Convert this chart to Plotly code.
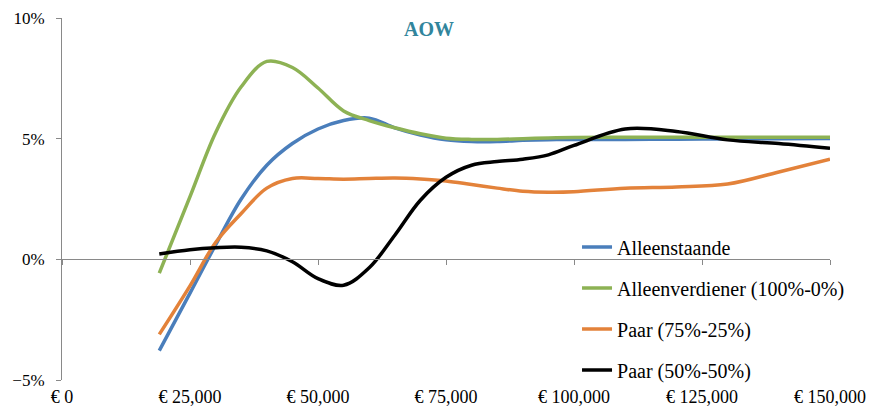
import plotly.graph_objects as go

# inkomen (x) en procentuele verandering per huishoudtype
inkomen = [19000, 25000, 30000, 35000, 40000, 45000, 50000, 55000, 60000, 65000,
           70000, 75000, 80000, 85000, 90000, 95000, 100000, 110000, 120000,
           130000, 140000, 150000]

alleenstaande = [-3.78, -1.4, 0.6, 2.5, 3.9, 4.8, 5.4, 5.75, 5.85, 5.45,
                 5.15, 4.95, 4.88, 4.88, 4.93, 4.96, 4.97, 4.97, 4.98,
                 4.99, 5.0, 5.01]
alleenverdiener = [-0.57, 2.6, 5.25, 7.15, 8.2, 7.95, 7.1, 6.15, 5.75, 5.45,
                   5.2, 5.02, 4.97, 4.97, 5.0, 5.03, 5.05, 5.06, 5.06,
                   5.06, 5.06, 5.06]
paar_75_25 = [-3.11, -1.1, 0.7, 1.9, 2.95, 3.35, 3.35, 3.32, 3.35, 3.37,
              3.33, 3.25, 3.1, 2.95, 2.82, 2.78, 2.8, 2.95, 3.0,
              3.12, 3.62, 4.15]
paar_50_50 = [0.22, 0.4, 0.48, 0.5, 0.35, -0.1, -0.8, -1.07, -0.35, 1.0,
              2.45, 3.4, 3.9, 4.05, 4.15, 4.33, 4.72, 5.4, 5.3,
              4.95, 4.8, 4.6]

x_ticks = [0, 25000, 50000, 75000, 100000, 125000, 150000]
x_labels = ["€ 0", "€ 25,000", "€ 50,000", "€ 75,000", "€ 100,000", "€ 125,000", "€ 150,000"]

series = [
    ("Alleenstaande", alleenstaande, "#4A7EBB"),
    ("Alleenverdiener (100%-0%)", alleenverdiener, "#8DB254"),
    ("Paar (75%-25%)", paar_75_25, "#E3823A"),
    ("Paar (50%-50%)", paar_50_50, "#000000"),
]

font = "Liberation Serif"
axis_grey = "#898989"

fig = go.Figure()
for name, values, color in series:
    fig.add_trace(go.Scatter(
        x=inkomen, y=values, name=name, mode="lines", legendgroup=name,
        line=dict(color=color, width=3.5, shape="spline", smoothing=1.0),
    ))

# onzichtbare trace zodat de as op 0% (met tickjes) wordt getekend
fig.add_trace(go.Scatter(
    x=inkomen, y=alleenstaande, xaxis="x2", mode="lines",
    line=dict(color="rgba(0,0,0,0)"), showlegend=False, hoverinfo="skip",
))

fig.update_layout(
    width=875, height=415,
    margin=dict(l=62, r=45, t=18, b=35),
    paper_bgcolor="white", plot_bgcolor="white",
    font=dict(family=font, size=17, color="#000000"),
    title=dict(text="<b>AOW</b>", x=0.478, xref="paper", y=0.929, yanchor="middle",
               font=dict(family=font, size=20, color="#31859C")),
    showlegend=True,
    legend=dict(x=0.6706, y=0.421, xanchor="left", yanchor="top",
                tracegroupgap=12, bgcolor="rgba(0,0,0,0)",
                font=dict(family=font, size=20)),
    xaxis=dict(range=[0, 150000], tickvals=x_ticks, ticktext=x_labels,
               showline=False, showgrid=False, zeroline=False, ticks="",
               ticklabelstandoff=4, automargin=False,
               tickfont=dict(family=font, size=18)),
    xaxis2=dict(range=[0, 150000], overlaying="x", anchor="free", position=1 / 3,
                tickvals=x_ticks, showticklabels=False, showline=True,
                linecolor=axis_grey, linewidth=1, ticks="outside", ticklen=5,
                tickcolor=axis_grey, showgrid=False, zeroline=False),
    yaxis=dict(range=[-5, 10], dtick=5, ticksuffix="%", showline=True,
               linecolor=axis_grey, linewidth=1, ticks="outside", ticklen=5,
               tickcolor=axis_grey, showgrid=False, zeroline=False,
               ticklabelstandoff=8, automargin=False),
)

fig.write_html("out.html", config={"displayModeBar": False},
               post_script="document.body.style.margin='0';")
